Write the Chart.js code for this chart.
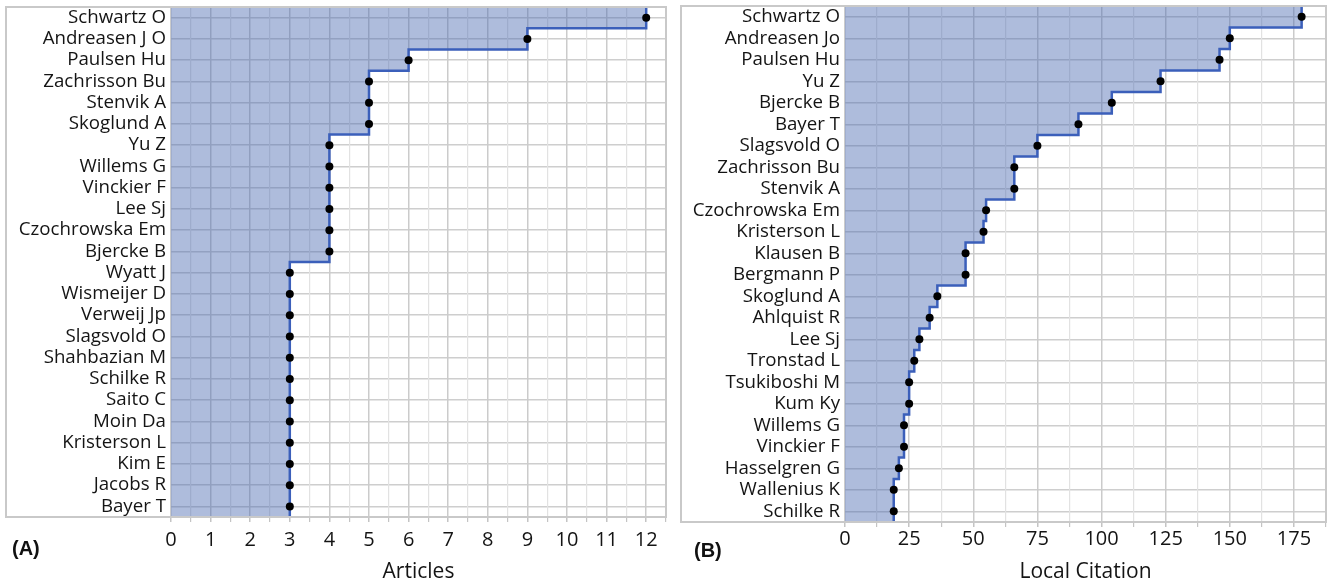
<!DOCTYPE html>
<html>
<head>
<meta charset="utf-8">
<script src="https://cdn.jsdelivr.net/npm/chart.js@4.4.1/dist/chart.umd.min.js"></script>
<style>
  html, body { margin: 0; padding: 0; background: #fff; }
  #wrap { position: relative; width: 1330px; height: 583px; overflow: hidden; }
  .panel { position: absolute; top: 0; height: 583px; }
  #panelA { left: 0; width: 670px; }
  #panelB { left: 675px; width: 655px; }
  .tag { position: absolute; font: bold 20px "Liberation Sans", Arial, sans-serif; color: #111; line-height: 23px; }
</style>
</head>
<body>
<div id="wrap">
  <div class="panel" id="panelA"><canvas id="chartA"></canvas></div>
  <div class="panel" id="panelB"><canvas id="chartB"></canvas></div>
  <div class="tag" style="left:12px; top:537px;">(A)</div>
  <div class="tag" style="left:694px; top:539px;">(B)</div>
</div>
<script>
'use strict';

// -------------------- data --------------------
const articleAuthors = [
  'Schwartz O', 'Andreasen J O', 'Paulsen Hu', 'Zachrisson Bu', 'Stenvik A', 'Skoglund A',
  'Yu Z', 'Willems G', 'Vinckier F', 'Lee Sj', 'Czochrowska Em', 'Bjercke B',
  'Wyatt J', 'Wismeijer D', 'Verweij Jp', 'Slagsvold O', 'Shahbazian M', 'Schilke R',
  'Saito C', 'Moin Da', 'Kristerson L', 'Kim E', 'Jacobs R', 'Bayer T'
];
const articleCounts = [12, 9, 6, 5, 5, 5, 4, 4, 4, 4, 4, 4, 3, 3, 3, 3, 3, 3, 3, 3, 3, 3, 3, 3];
const articleTicks = [0, 1, 2, 3, 4, 5, 6, 7, 8, 9, 10, 11, 12];

const citationAuthors = [
  'Schwartz O', 'Andreasen Jo', 'Paulsen Hu', 'Yu Z', 'Bjercke B', 'Bayer T',
  'Slagsvold O', 'Zachrisson Bu', 'Stenvik A', 'Czochrowska Em', 'Kristerson L', 'Klausen B',
  'Bergmann P', 'Skoglund A', 'Ahlquist R', 'Lee Sj', 'Tronstad L', 'Tsukiboshi M',
  'Kum Ky', 'Willems G', 'Vinckier F', 'Hasselgren G', 'Wallenius K', 'Schilke R'
];
const citationCounts = [178, 150, 146, 123, 104, 91, 75, 66, 66, 55, 54, 47, 47, 36, 33, 29, 27, 25, 25, 23, 23, 21, 19, 19];
const citationTicks = [0, 25, 50, 75, 100, 125, 150, 175];

// -------------------- helpers --------------------
const FONT = '"Open Sans", "Noto Sans", sans-serif';

// 外枠（ラベル欄も含む）
const framePlugin = {
  id: 'frame',
  afterDraw(chart) {
    const {ctx, chartArea} = chart;
    ctx.save();
    ctx.strokeStyle = '#c9c9c9';
    ctx.lineWidth = 2;
    ctx.strokeRect(6, chartArea.top, chartArea.right - 6, chartArea.bottom - chartArea.top);
    ctx.restore();
  }
};

function makePanel(id, names, values, majorTicks, cfg) {
  // step outline: each row spans from i-0.5 to i+0.5
  const steps = [];
  values.forEach((v, i) => {
    steps.push({x: v, y: i - 0.5});
    steps.push({x: v, y: i + 0.5});
  });
  const dots = values.map((v, i) => ({x: v, y: i}));

  // major ticks + half-way minor ticks
  const gridTicks = [];
  majorTicks.forEach(t => {
    gridTicks.push(t);
    gridTicks.push(t + cfg.minor);
  });

  return new Chart(document.getElementById(id), {
    type: 'line',
    data: {
      datasets: [
        {
          data: dots,
          showLine: false,
          pointRadius: 4,
          pointBackgroundColor: '#000',
          pointBorderWidth: 0,
          order: 0
        },
        {
          data: steps,
          borderColor: '#3b5fba',
          borderWidth: 2.5,
          pointRadius: 0,
          fill: 'origin',
          backgroundColor: 'rgba(75, 106, 177, 0.45)',
          order: 1
        }
      ]
    },
    options: {
      indexAxis: 'y',
      responsive: true,
      maintainAspectRatio: false,
      animation: false,
      layout: {padding: {top: cfg.top, right: cfg.right, left: 0, bottom: 0}},
      plugins: {legend: {display: false}, tooltip: {enabled: false}},
      scales: {
        y: {
          type: 'linear',
          reverse: true,
          min: -0.5,
          max: names.length - 0.5,
          afterBuildTicks: s => { s.ticks = names.map((n, i) => ({value: i})); },
          afterFit: s => { s.width = cfg.yWidth; s.paddingTop = 0; s.paddingBottom = 0; },
          ticks: {
            autoSkip: false,
            callback: v => names[v],
            font: {family: FONT, size: 18.7},
            color: '#141414',
            padding: 5
          },
          grid: {color: '#cecece', lineWidth: 1.5, drawTicks: false},
          border: {display: false}
        },
        x: {
          type: 'linear',
          min: 0,
          max: cfg.max,
          afterBuildTicks: s => { s.ticks = gridTicks.map(v => ({value: v})); },
          afterFit: s => { s.height = cfg.xHeight; s.paddingLeft = 0; s.paddingRight = 0; },
          ticks: {
            autoSkip: false,
            maxRotation: 0,
            callback: v => (majorTicks.includes(v) ? String(v) : ''),
            font: {family: FONT, size: 20},
            color: '#141414',
            padding: cfg.tickPad
          },
          grid: {
            color: c => (c.tick && majorTicks.includes(c.tick.value) ? '#cbcbcb' : '#e2e2e2'),
            lineWidth: c => (c.tick && majorTicks.includes(c.tick.value) ? 1.5 : 1.2),
            tickLength: 5,
            tickColor: '#c4c4c4'
          },
          border: {display: false},
          title: {
            display: true,
            text: cfg.title,
            font: {family: FONT, size: 21, lineHeight: 1},
            color: '#141414',
            padding: {top: 0, bottom: 0}
          }
        }
      }
    },
    plugins: [framePlugin]
  });
}

// -------------------- charts --------------------
makePanel('chartA', articleAuthors, articleCounts, articleTicks, {
  max: 12.5, minor: 0.5, top: 7, right: 3, yWidth: 171, xHeight: 66, tickPad: 6, title: 'Articles'
});

makePanel('chartB', citationAuthors, citationCounts, citationTicks, {
  max: 187.5, minor: 12.5, top: 6, right: 4, yWidth: 170, xHeight: 61, tickPad: 0, title: 'Local Citation'
});
</script>
</body>
</html>
